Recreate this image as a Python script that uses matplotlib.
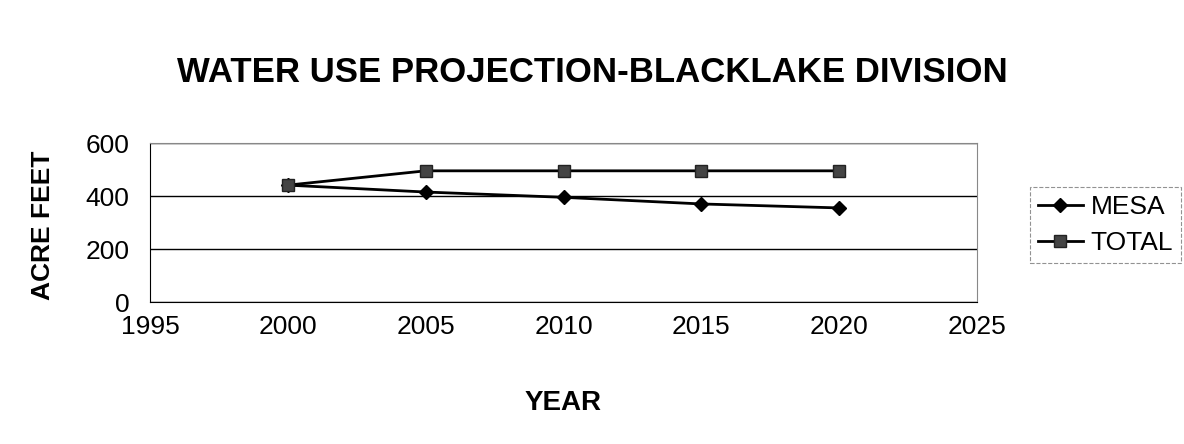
import matplotlib
matplotlib.use("Agg")
import matplotlib.pyplot as plt

years = [2000, 2005, 2010, 2015, 2020]
mesa = [441, 415, 395, 370, 355]
total = [441, 495, 495, 495, 495]
x_ticks = [1995, 2000, 2005, 2010, 2015, 2020, 2025]
y_ticks = [0, 200, 400, 600]

plt.rcParams['font.family'] = ['Liberation Sans', 'DejaVu Sans']

W, H = 1184, 444
fig = plt.figure(figsize=(W / 100, H / 100), dpi=100)
ax = fig.add_axes([150/W, 1 - 302/H, (977-150)/W, (302-143)/H])

ax.plot(years, mesa, color='black', lw=2, marker='D', ms=7, mfc='black', mec='black', label='MESA')
ax.plot(years, total, color='black', lw=2, marker='s', ms=8, mfc='#444444', mec='#222222', label='TOTAL')

ax.set_xlim(1995, 2025)
ax.set_ylim(0, 600)
ax.set_xticks(x_ticks)
ax.set_yticks(y_ticks)
ax.tick_params(axis='both', labelsize=19, length=0)
ax.tick_params(axis='x', pad=9)
ax.tick_params(axis='y', pad=15)
ax.grid(axis='y', color='black', lw=1)
ax.set_axisbelow(True)
for s in ['top', 'right']:
    ax.spines[s].set_color('#888888')
for s in ['left', 'bottom']:
    ax.spines[s].set_color('black')

fig.text(563/W, 1 - 403/H, 'YEAR', fontsize=20, fontweight='bold', ha='center', va='center')
fig.text(43/W, 1 - 225/H, 'ACRE FEET', fontsize=19, fontweight='bold', ha='center', va='center',
         rotation=90)
fig.text(0.5, 1 - 72/H, 'WATER USE PROJECTION-BLACKLAKE DIVISION', fontsize=25,
         fontweight='bold', ha='center', va='center')

leg = fig.legend(loc='lower left', bbox_to_anchor=(1030/W, 1 - 263/H), fontsize=19, frameon=True,
                 fancybox=False, edgecolor='#777777', handlelength=1.7, handletextpad=0.3,
                 borderpad=0.3, borderaxespad=0, labelspacing=0.45)
leg.get_frame().set_linestyle('--')
leg.get_frame().set_linewidth(0.8)

fig.savefig('out.png', dpi=100)
